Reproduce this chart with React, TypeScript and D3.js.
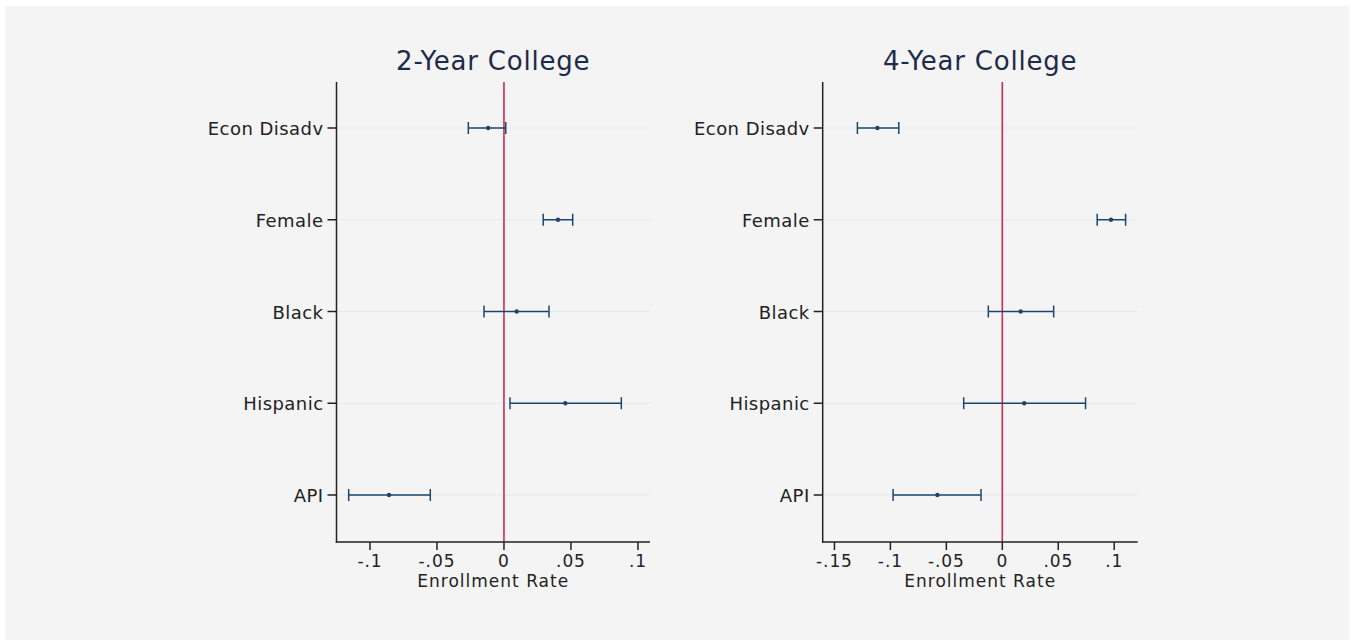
import React from "react";
import * as d3 from "d3";

const categories = ["Econ Disadv", "Female", "Black", "Hispanic", "API"];

// 2-Year College
const twoYearEst = [-0.0118, 0.0403, 0.0095, 0.0458, -0.0858];
const twoYearLo = [-0.0266, 0.0293, -0.0149, 0.0045, -0.1159];
const twoYearHi = [0.0013, 0.0513, 0.0336, 0.0876, -0.055];
const twoYearTicks = [-0.1, -0.05, 0, 0.05, 0.1];
const twoYearDomain = [-0.125, 0.109];

// 4-Year College
const fourYearEst = [-0.1116, 0.0971, 0.0164, 0.0196, -0.058];
const fourYearLo = [-0.1295, 0.0848, -0.0125, -0.0345, -0.0976];
const fourYearHi = [-0.0925, 0.1102, 0.0459, 0.0744, -0.019];
const fourYearTicks = [-0.15, -0.1, -0.05, 0, 0.05, 0.1];
const fourYearDomain = [-0.1605, 0.121];

const fmt = (v: number) => {
  if (v === 0) return "0";
  const s = String(Math.abs(v)).replace(/^0/, "");
  return (v < 0 ? "-" : "") + s;
};

const FONT = "Verdana, 'DejaVu Sans', sans-serif";

type PanelProps = {
  title: string;
  x0: number;
  x1: number;
  domain: number[];
  ticks: number[];
  est: number[];
  lo: number[];
  hi: number[];
};

function Panel({ title, x0, x1, domain, ticks, est, lo, hi }: PanelProps) {
  const yTop = 82;
  const yBot = 542;
  const x = d3.scaleLinear().domain(domain).range([x0, x1]);
  const y = d3.scalePoint().domain(categories).range([128, 495]);
  const capH = 6;
  const markColor = "#1a476f";
  return (
    <g>
      <text
        x={(x0 + x1) / 2}
        y={70}
        textAnchor="middle"
        fontFamily={FONT}
        fontSize={26}
        letterSpacing={0.8}
        fill="#1e2a4a"
      >
        {title}
      </text>
      {/* gridlines */}
      {categories.map((c) => (
        <line
          key={"g" + c}
          x1={x0}
          x2={x1}
          y1={y(c)}
          y2={y(c)}
          stroke="#e2eaf0"
          strokeWidth={1.2}
        />
      ))}
      {/* zero line */}
      <line x1={x(0)} x2={x(0)} y1={yTop} y2={yBot} stroke="#d12a52" strokeWidth={1.6} />
      {/* CIs */}
      {categories.map((c, i) => {
        const yy = y(c) as number;
        return (
          <g key={"ci" + c}>
            <line x1={x(lo[i])} x2={x(hi[i])} y1={yy} y2={yy} stroke={markColor} strokeWidth={1.5} />
            <line x1={x(lo[i])} x2={x(lo[i])} y1={yy - capH} y2={yy + capH} stroke={markColor} strokeWidth={1.5} />
            <line x1={x(hi[i])} x2={x(hi[i])} y1={yy - capH} y2={yy + capH} stroke={markColor} strokeWidth={1.5} />
            <circle cx={x(est[i])} cy={yy} r={2.2} fill={markColor} />
          </g>
        );
      })}
      {/* y axis */}
      <line x1={x0} x2={x0} y1={yTop} y2={yBot + 0.5} stroke="#222" strokeWidth={1.5} />
      {categories.map((c) => (
        <g key={"yl" + c}>
          <line x1={x0 - 9} x2={x0} y1={y(c)} y2={y(c)} stroke="#222" strokeWidth={1.5} />
          <text
            x={x0 - 13}
            y={(y(c) as number) + 7}
            textAnchor="end"
            fontFamily={FONT}
            fontSize={18}
            letterSpacing={0.45}
            fill="#222"
          >
            {c}
          </text>
        </g>
      ))}
      {/* x axis */}
      <line x1={x0 - 0.75} x2={x1} y1={yBot} y2={yBot} stroke="#222" strokeWidth={1.5} />
      {ticks.map((t) => (
        <g key={"xt" + t}>
          <line x1={x(t)} x2={x(t)} y1={yBot} y2={yBot + 8} stroke="#222" strokeWidth={1.5} />
          <text
            x={x(t)}
            y={yBot + 25}
            textAnchor="middle"
            fontFamily={FONT}
            fontSize={17}
            letterSpacing={0.9}
            fill="#222"
          >
            {fmt(t)}
          </text>
        </g>
      ))}
      <text
        x={(x0 + x1) / 2}
        y={587}
        textAnchor="middle"
        fontFamily={FONT}
        fontSize={17}
        letterSpacing={1}
        fill="#222"
      >
        Enrollment Rate
      </text>
    </g>
  );
}

export default function App() {
  return (
    <svg
      width={1351}
      height={640}
      style={{ position: "absolute", left: 0, top: 0, display: "block" }}
    >
      <rect x={0} y={0} width={1351} height={640} fill="#ffffff" />
      <rect x={5} y={6} width={1344} height={634} fill="#f4f4f4" />
      <Panel
        title="2-Year College"
        x0={336.5}
        x1={650}
        domain={twoYearDomain}
        ticks={twoYearTicks}
        est={twoYearEst}
        lo={twoYearLo}
        hi={twoYearHi}
      />
      <Panel
        title="4-Year College"
        x0={822.7}
        x1={1137.7}
        domain={fourYearDomain}
        ticks={fourYearTicks}
        est={fourYearEst}
        lo={fourYearLo}
        hi={fourYearHi}
      />
    </svg>
  );
}
